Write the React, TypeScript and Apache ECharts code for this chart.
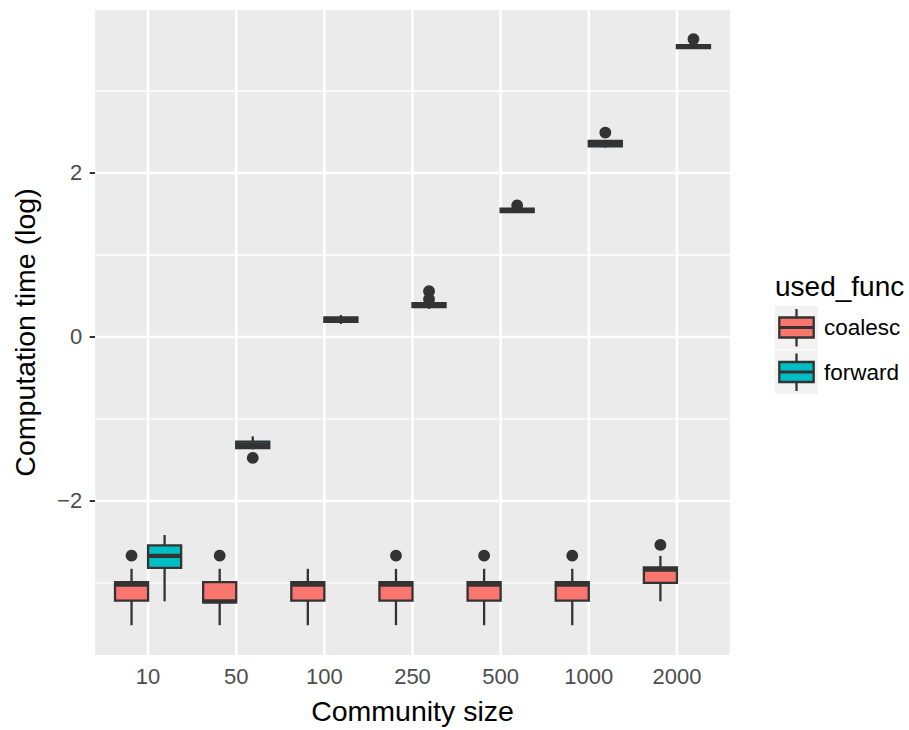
import React, { useEffect, useRef } from "react";
import * as echarts from "echarts";

const categories = ["10", "50", "100", "250", "500", "1000", "2000"];
const seriesNames = ["coalesc", "forward"];
const seriesColors = ["#F8766D", "#00BFC4"];

// [lower whisker, Q1, median, Q3, upper whisker]
const coalescStats = [
  [-3.515, -3.215, -3.02, -2.99, -2.828],
  [-3.515, -3.236, -3.224, -2.99, -2.828],
  [-3.515, -3.215, -3.02, -2.99, -2.828],
  [-3.515, -3.215, -3.02, -2.99, -2.828],
  [-3.515, -3.215, -3.02, -2.99, -2.828],
  [-3.515, -3.215, -3.02, -2.99, -2.828],
  [-3.224, -3.0, -2.836, -2.812, -2.67],
];
const coalescOutliers = [[-2.667], [-2.667], [], [-2.667], [-2.667], [-2.667], [-2.537]];

const forwardStats = [
  [-3.224, -2.816, -2.67, -2.542, -2.416],
  [-1.37, -1.354, -1.315, -1.277, -1.212],
  [0.158, 0.185, 0.212, 0.239, 0.267],
  [0.343, 0.364, 0.388, 0.412, 0.424],
  [1.515, 1.524, 1.543, 1.564, 1.575],
  [2.31, 2.324, 2.358, 2.392, 2.4],
  [3.515, 3.524, 3.542, 3.56, 3.57],
];
const forwardOutliers = [[], [-1.475], [], [0.46, 0.558], [1.604], [2.493], [3.633]];

const yTicks = [-2, 0, 2];
const yMinorLines = [-3, -1, 1, 3];
const yMin = -3.879;
const yMax = 3.988;

const FONT = "'Liberation Sans', Arial, Helvetica, sans-serif";
const DARK = "#333333";
const PANEL_BG = "#EBEBEB";

const GRID_LEFT = 104;
const GRID_WIDTH = 617;
const GRID_TOP = 10;
const GRID_BOTTOM_Y = 659;
const BAND = GRID_WIDTH / categories.length;

export default function App() {
  const ref = useRef<HTMLDivElement>(null);

  useEffect(() => {
    if (!ref.current) return;
    const chart = echarts.init(ref.current, null, { renderer: "svg" });

    const boxRender = (offsetFrac: number, color: string) => (params: any, api: any) => {
      const idx = api.value(0);
      const band = api.size([1, 0])[0];
      const cx = api.coord([idx, 0])[0] + offsetFrac * band;
      const half = (0.375 * band) / 2;
      const py = (v: number) => api.coord([idx, v])[1];
      const lo = py(api.value(1));
      const q1 = py(api.value(2));
      const med = py(api.value(3));
      const q3 = py(api.value(4));
      const hi = py(api.value(5));
      return {
        type: "group",
        children: [
          { type: "line", shape: { x1: cx, y1: hi, x2: cx, y2: q3 }, style: { stroke: DARK, lineWidth: 2.3 } },
          { type: "line", shape: { x1: cx, y1: q1, x2: cx, y2: lo }, style: { stroke: DARK, lineWidth: 2.3 } },
          {
            type: "rect",
            shape: { x: cx - half, y: q3, width: 2 * half, height: q1 - q3 },
            style: { fill: color, stroke: DARK, lineWidth: 2.3 },
          },
          {
            type: "line",
            shape: { x1: cx - half, y1: med, x2: cx + half, y2: med },
            style: { stroke: DARK, lineWidth: 4.3 },
          },
        ],
      };
    };

    const outlierRender = (offsetFrac: number) => (params: any, api: any) => {
      const idx = api.value(0);
      const band = api.size([1, 0])[0];
      const p = api.coord([idx, api.value(1)]);
      return {
        type: "circle",
        shape: { cx: p[0] + offsetFrac * band, cy: p[1], r: 5.9 },
        style: { fill: DARK },
      };
    };

    const gridData: number[][] = [];
    gridData.push([0, 0, 3]);
    yMinorLines.forEach((v) => gridData.push([0, v, 0]));
    yTicks.forEach((v) => gridData.push([0, v, 1]));
    categories.forEach((_, i) => gridData.push([i, 0, 2]));

    const gridRender = (params: any, api: any) => {
      const kind = api.value(2);
      const band = api.size([1, 0])[0];
      const left = api.coord([0, 0])[0] - 0.6 * band;
      const right = api.coord([categories.length - 1, 0])[0] + 0.6 * band;
      const top = api.coord([0, yMax])[1];
      const bottom = api.coord([0, yMin])[1];
      if (kind === 3) {
        return { type: "rect", z2: 0, shape: { x: left, y: top, width: right - left, height: bottom - top }, style: { fill: PANEL_BG } };
      }
      if (kind === 2) {
        const x = api.coord([api.value(0), 0])[0];
        return { type: "line", z2: 2, shape: { x1: x, y1: top, x2: x, y2: bottom }, style: { stroke: "#FFFFFF", lineWidth: 2.6 } };
      }
      const y = api.coord([0, api.value(1)])[1];
      return {
        type: "line",
        z2: kind === 1 ? 2 : 1,
        shape: { x1: left, y1: y, x2: right, y2: y },
        style: { stroke: "#FFFFFF", lineWidth: kind === 1 ? 2.6 : 1.3 },
      };
    };

    const toBoxData = (stats: number[][]) => stats.map((s, i) => [i, ...s]);
    const toOutlierData = (outs: number[][]) => {
      const d: number[][] = [];
      outs.forEach((list, i) => list.forEach((v) => d.push([i, v])));
      return d;
    };

    const fmt = (v: number) => (v < 0 ? "\u2212" + Math.abs(v) : String(v));

    // legend
    const legendX = 775;
    const legendKeys = [
      { top: 306, name: seriesNames[0], color: seriesColors[0] },
      { top: 350.5, name: seriesNames[1], color: seriesColors[1] },
    ];
    const legendGraphics: any[] = [
      {
        type: "text",
        left: legendX,
        top: 272,
        style: { text: "used_func", font: `28px ${FONT}`, fill: "#000000" },
      },
    ];
    legendKeys.forEach((k) => {
      const kh = 43.5;
      const boxTop = k.top + 11.5;
      const boxBot = k.top + 31.5;
      const med = (boxTop + boxBot) / 2;
      legendGraphics.push(
        { type: "rect", shape: { x: legendX, y: k.top, width: 43, height: kh }, style: { fill: "#F2F2F2" } },
        { type: "line", shape: { x1: legendX + 21.5, y1: k.top + 3, x2: legendX + 21.5, y2: k.top + kh - 3 }, style: { stroke: DARK, lineWidth: 2.3 } },
        { type: "rect", shape: { x: legendX + 4.3, y: boxTop, width: 34.4, height: boxBot - boxTop }, style: { fill: k.color, stroke: DARK, lineWidth: 2.3 } },
        { type: "line", shape: { x1: legendX + 4.3, y1: med, x2: legendX + 38.7, y2: med }, style: { stroke: DARK, lineWidth: 3 } },
        {
          type: "text",
          x: 824,
          y: k.top + kh / 2,
          style: { text: k.name, font: `22.5px ${FONT}`, fill: "#000000", verticalAlign: "middle", align: "left" },
        }
      );
    });

    chart.setOption({
      animation: false,
      textStyle: { fontFamily: FONT },
      grid: {
        left: GRID_LEFT,
        width: GRID_WIDTH,
        top: GRID_TOP,
        height: GRID_BOTTOM_Y - GRID_TOP,
        containLabel: false,
      },
      xAxis: {
        type: "category",
        data: categories,
        boundaryGap: true,
        axisLine: { show: false },
        axisTick: { show: true, alignWithLabel: true, length: 5.5, lineStyle: { color: DARK, width: 2 } },
        axisLabel: { interval: 0, fontSize: 22, color: "#4D4D4D", margin: 10.5, fontFamily: FONT },
        splitLine: { show: false },
        name: "Community size",
        nameLocation: "middle",
        nameGap: 41,
        nameTextStyle: { fontSize: 28.5, color: "#000000", fontFamily: FONT },
      },
      yAxis: {
        type: "value",
        min: yMin,
        max: yMax,
        offset: 0.1 * BAND,
        axisLine: { show: false },
        axisTick: { show: true, customValues: yTicks, length: 5.5, lineStyle: { color: DARK, width: 2 } },
        axisLabel: { customValues: yTicks, formatter: fmt, fontSize: 22, color: "#4D4D4D", margin: 13, fontFamily: FONT },
        splitLine: { show: false },
        name: "Computation time (log)",
        nameLocation: "middle",
        nameGap: 56,
        nameTextStyle: { fontSize: 28.5, color: "#000000", fontFamily: FONT },
      },
      graphic: legendGraphics,
      series: [
        {
          type: "custom",
          name: "grid",
          silent: true,
          z: 1,
          renderItem: gridRender,
          encode: { x: 0, y: 1 },
          data: gridData,
        },
        {
          type: "custom",
          name: seriesNames[0],
          z: 3,
          renderItem: boxRender(-0.1875, seriesColors[0]),
          encode: { x: 0, y: [1, 2, 3, 4, 5] },
          data: toBoxData(coalescStats),
        },
        {
          type: "custom",
          name: seriesNames[1],
          z: 3,
          renderItem: boxRender(0.1875, seriesColors[1]),
          encode: { x: 0, y: [1, 2, 3, 4, 5] },
          data: toBoxData(forwardStats),
        },
        {
          type: "custom",
          name: seriesNames[0] + " outliers",
          z: 4,
          renderItem: outlierRender(-0.1875),
          encode: { x: 0, y: 1 },
          data: toOutlierData(coalescOutliers),
        },
        {
          type: "custom",
          name: seriesNames[1] + " outliers",
          z: 4,
          renderItem: outlierRender(0.1875),
          encode: { x: 0, y: 1 },
          data: toOutlierData(forwardOutliers),
        },
      ],
    });

    return () => chart.dispose();
  }, []);

  return (
    <div
      ref={ref}
      style={{ position: "absolute", left: 0, top: 0, width: 909, height: 730, background: "#FFFFFF" }}
    />
  );
}
